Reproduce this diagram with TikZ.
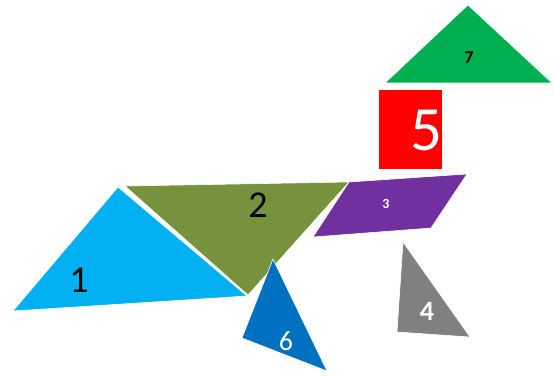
\documentclass[tikz,border=0pt]{standalone}
\usepackage{fontspec}
\setmainfont{Carlito}
\definecolor{tancyan}{RGB}{0,176,240}
\definecolor{tanolive}{RGB}{118,146,60}
\definecolor{tanpurple}{RGB}{112,48,160}
\definecolor{tangrey}{RGB}{128,128,128}
\definecolor{tanblue}{RGB}{0,112,192}
\definecolor{tanred}{RGB}{255,0,0}
\definecolor{tangreen}{RGB}{0,176,80}
\begin{document}
\begin{tikzpicture}[
    x=1pt,y=-1pt,
    piece/.style={draw=white,line width=0.6pt,line join=miter},
    lbl/.style={inner sep=0pt,anchor=center}
  ]
    \useasboundingbox (0,0) rectangle (554,375);
    % pieces
    \fill[piece,fill=tancyan] (118,187) -- (13,311) -- (247,296) -- cycle;
    \fill[piece,fill=tanolive] (125,186) -- (349,182) -- (248,295) -- cycle;
    \fill[piece,fill=tanpurple] (349,182) -- (467,174) -- (431,228) -- (313,237) -- cycle;
    \fill[piece,fill=tangrey] (403,242) -- (397,332) -- (470,337) -- cycle;
    \fill[piece,fill=tanred] (378,89) rectangle (442,169);
    \fill[piece,fill=tanblue] (273,259) -- (242,338) -- (327,371) -- cycle;
    \fill[piece,fill=tangreen] (468,5) -- (385,83) -- (552,83) -- cycle;
    % numbers
    \node[lbl] (n1) at (79,280) {\fontsize{38}{40}\selectfont 1};
    \node[lbl] (n2) at (258,205) {\fontsize{38}{40}\selectfont 2};
    \node[lbl,text=white] (n3) at (386,204) {\fontsize{14}{16}\selectfont\bfseries 3};
    \node[lbl,text=white] (n4) at (427,311) {\fontsize{28}{30}\selectfont\bfseries 4};
    \node[lbl,text=white] (n5) at (426,131) {\fontsize{63}{65}\selectfont 5};
    \node[lbl,text=white] (n6) at (286,341) {\fontsize{28}{30}\selectfont 6};
    \node[lbl] (n7) at (469,58) {\fontsize{18}{20}\selectfont\bfseries 7};
  \end{tikzpicture}
\end{document}
